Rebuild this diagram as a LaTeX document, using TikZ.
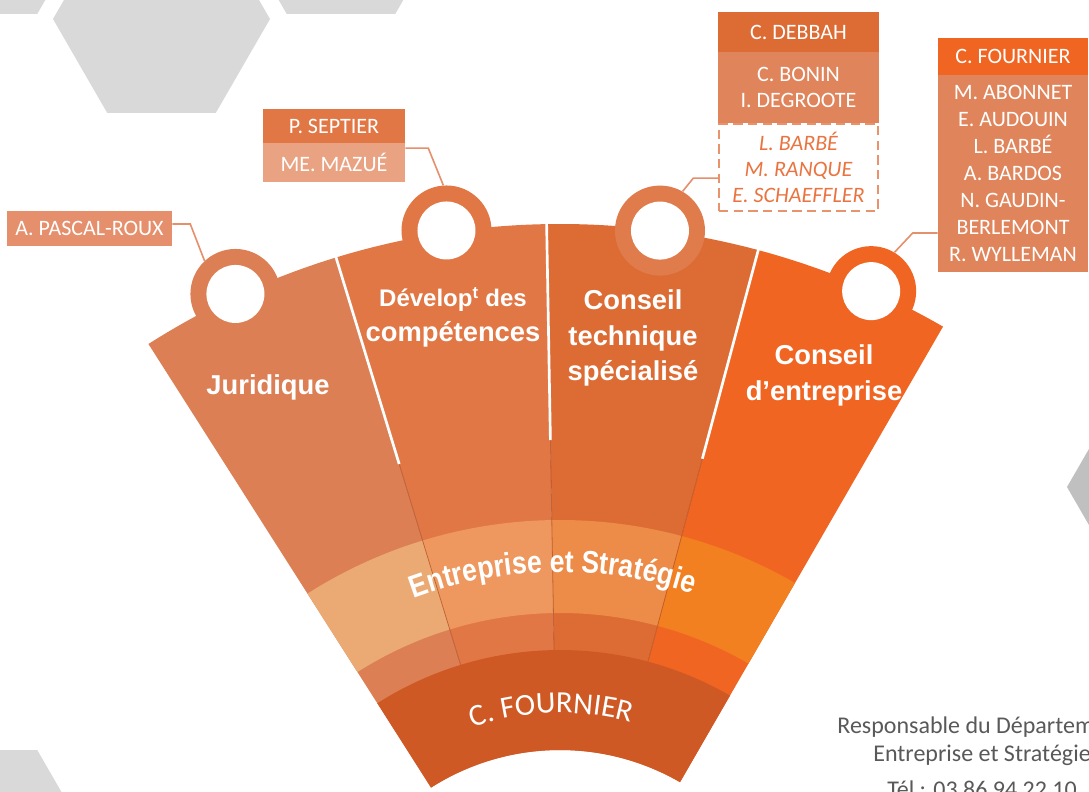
\documentclass[tikz,border=0pt]{standalone}
\usepackage{fontspec}
\setmainfont{Carlito}
\newfontfamily\secfont{Liberation Sans}
\newfontfamily\bandfont[FakeStretch=0.85]{Liberation Sans}
\usetikzlibrary{decorations.text}

\definecolor{jurOrange}{HTML}{DC7F55}
\definecolor{devOrange}{HTML}{E27746}
\definecolor{techOrange}{HTML}{DD6C34}
\definecolor{entrOrange}{HTML}{F16523}
\definecolor{jurBand}{HTML}{EBAA73}
\definecolor{devBand}{HTML}{EE985F}
\definecolor{techBand}{HTML}{EC8C48}
\definecolor{entrBand}{HTML}{F38020}
\definecolor{fournierRed}{HTML}{CF5925}
\definecolor{techTabOrange}{HTML}{E07B4C}
\definecolor{linkSalmon}{HTML}{E58F6C}
\definecolor{boxSalmon}{HTML}{E58F6C}
\definecolor{boxLight}{HTML}{E9A383}
\definecolor{boxMid}{HTML}{E0855B}
\definecolor{boxDash}{HTML}{E8936B}
\definecolor{italicOrange}{HTML}{EA7440}
\definecolor{hexGray}{HTML}{D9D9D9}
\definecolor{hexDark}{HTML}{C0C0C0}
\definecolor{noteGray}{HTML}{595959}

\tikzset{
  namebox/.style={rectangle, inner sep=0pt, text=white, align=center,
    font=\fontsize{16.5}{19.5}\selectfont},
  tabring/.style={circle, inner sep=0pt, minimum size=90*0.75pt},
  tabhole/.style={circle, inner sep=0pt, minimum size=58*0.75pt, fill=white},
  seclabel/.style={text=white, align=center,
    font=\secfont\bfseries\fontsize{20.5}{26.5}\selectfont},
  sepwhite/.style={draw=white, line width=2pt},
  sepdark/.style={draw=fournierRed!80!black, line width=0.6pt, opacity=0.6},
  link/.style={draw=linkSalmon, line width=1.2pt},
}

\begin{document}
\begin{tikzpicture}[x=0.75pt,y=0.75pt]
\useasboundingbox (0,-792) rectangle (1089,0);
\clip (0,-792) rectangle (1089,0);
\fill[white] (0,-792) rectangle (1089,0);

\foreach \cx/\cy in {-17/80, 161.5/-19, 341/80, -17/-844}
  \fill[hexGray] (\cx,\cy) +(0:108.5) -- +(60:108.5) -- +(120:108.5) -- +(180:108.5) -- +(240:108.5) -- +(300:108.5) -- cycle;
\fill[hexDark] (1175.5,-487) +(0:108.5) -- +(60:108.5) -- +(120:108.5) -- +(180:108.5) -- +(240:108.5) -- +(300:108.5) -- cycle;

\begin{scope}[shift={(560,-990)}]
\foreach \a/\b/\col/\band in {122.5/107/jurOrange/jurBand, 107/91/devOrange/devBand, 91/75/techOrange/techBand, 75/60/entrOrange/entrBand} {
  \fill[\col] (\a:240) -- (\a:766) arc[start angle=\a, end angle=\b, radius=766] -- (\b:240) arc[start angle=\b, end angle=\a, radius=240] -- cycle;
  \fill[\band] (\a:377) -- (\a:470) arc[start angle=\a, end angle=\b, radius=470] -- (\b:377) arc[start angle=\b, end angle=\a, radius=377] -- cycle;
}
\node[tabring, fill=jurOrange] (jurTab) at (115:768) {};
\node[tabring, fill=devOrange] (devTab) at (98.5:768) {};
\node[tabring, fill=techTabOrange] (techTab) at (82.5:766) {};
\node[tabring, fill=entrOrange] (entrTab) at (66:765) {};
\node[tabhole] (jurHole) at (jurTab) {};
\node[tabhole] (devHole) at (devTab) {};
\node[tabhole] (techHole) at (techTab) {};
\node[tabhole] (entrHole) at (entrTab) {};

\foreach \s in {107,91,75} {
  \draw[sepdark] (\s:340) -- (\s:550);
  \draw[sepwhite] (\s:550) -- (\s:790);
}

\fill[fournierRed] (122.5:240) -- (122.5:340) arc[start angle=122.5, end angle=60, radius=340] -- (60:240) arc[start angle=60, end angle=122.5, radius=240] -- cycle;

\path[decorate, decoration={text along path, text align=center, text color=white,
  text={|\bandfont\bfseries\fontsize{23.5}{27}\selectfont|Entreprise et Stratégie}}]
  (131:418) arc[start angle=131, end angle=51, radius=418];
\path[decorate, decoration={text along path, text align=center, text color=white,
  text={|\fontsize{23}{27}\selectfont|C. FOURNIER}}]
  (131.8:277) arc[start angle=131.8, end angle=51.8, radius=277];
\end{scope}

\node[seclabel] (jurLabel) at (268,-387) {Juridique};
\node[seclabel] (devLabel) at (453,-317.5) {{\fontsize{18}{22}\selectfont Dévelop\textsuperscript{t} des}\\compétences};
\node[seclabel] (techLabel) at (633,-338) {Conseil\\technique\\spécialisé};
\node[seclabel] (entrLabel) at (824,-375.5) {Conseil\\d’entreprise};

\node[namebox, fill=boxSalmon, minimum width=165*0.75pt, minimum height=35*0.75pt] (pascal) at (89.5,-228) {A. PASCAL-ROUX};

\node[namebox, fill=devOrange, minimum width=142*0.75pt, minimum height=34*0.75pt] (septier) at (334,-126) {P. SEPTIER};
\node[namebox, fill=boxLight, minimum width=142*0.75pt, minimum height=39*0.75pt] (mazue) at (334,-162.5) {ME. MAZUÉ};

\node[namebox, fill=techOrange, minimum width=161*0.75pt, minimum height=40*0.75pt] (debbah) at (798.5,-32) {C. DEBBAH};
\node[namebox, fill=boxMid, minimum width=161*0.75pt, minimum height=71*0.75pt] (bonin) at (798.5,-87.5) {C. BONIN\\I. DEGROOTE};
\node[namebox, draw=boxDash, dashed, line width=1.1pt, dash pattern=on 7pt off 4pt, text=italicOrange,
  font=\itshape\fontsize{16.5}{19.5}\selectfont, minimum width=159*0.75pt, minimum height=87*0.75pt] (debDash) at (798.5,-167.5) {L. BARBÉ\\M. RANQUE\\E. SCHAEFFLER};

\node[namebox, fill=entrOrange, minimum width=150*0.75pt, minimum height=37*0.75pt] (fourHead) at (1013,-56.5) {C. FOURNIER};
\node[namebox, fill=boxMid, minimum width=150*0.75pt, minimum height=197*0.75pt,
  font=\fontsize{16.5}{20.2}\selectfont] (fourBody) at (1013,-173.5) {M. ABONNET\\E. AUDOUIN\\L. BARBÉ\\A. BARDOS\\N. GAUDIN-\\BERLEMONT\\R. WYLLEMAN};

\draw[link] ([yshift=3pt]pascal.east) -- ++(18,0) -- (jurTab.133);
\draw[link] ([yshift=-4pt]mazue.north east) -- ++(23,0) -- (devTab.94);
\draw[link] ([yshift=-8pt]debDash.west) -- ++(-25,0) -- (techTab.60);
\draw[link] ([yshift=-44.6pt]fourBody.west) -- ++(-25,0) -- (entrTab.59);

\node[text=noteGray, align=center, font=\fontsize{18}{21}\selectfont] (deptNote) at (982,-757) {Responsable du Département\\Entreprise et Stratégie\\[6pt]Tél : 03 86 94 22 10};
\end{tikzpicture}
\end{document}
